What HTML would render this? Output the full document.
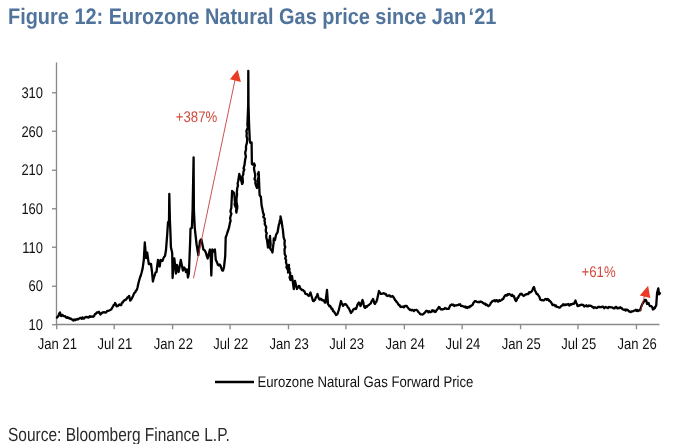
<!DOCTYPE html>
<html><head><meta charset="utf-8"><title>Figure 12</title>
<style>html,body{margin:0;padding:0;background:#fff;width:700px;height:444px;overflow:hidden}</style></head>
<body>
<svg width="700" height="444" viewBox="0 0 700 444" style="position:absolute;left:0;top:0;font-family:'Liberation Sans',Arial,sans-serif;text-rendering:geometricPrecision">
<rect width="700" height="444" fill="#fff"/>
<text transform="translate(8.00,23.50) scale(0.885,1)" text-anchor="start" font-size="22.5" fill="#50749c" font-weight="bold">Figure 12: Eurozone Natural Gas price since Jan</text>
<text transform="translate(496.30,23.50) scale(0.885,1)" text-anchor="end" font-size="22.5" fill="#50749c" font-weight="bold">‘21</text>
<g stroke="#8a8a8a" stroke-width="1.35" fill="none">
<path d="M56.5 62.5 V325"/>
<path d="M56 324.5 H659.5"/>
<path d="M52 324.75 H56.5"/>
<path d="M52 286.25 H56.5"/>
<path d="M52 247.25 H56.5"/>
<path d="M52 208.75 H56.5"/>
<path d="M52 170.25 H56.5"/>
<path d="M52 131.25 H56.5"/>
<path d="M52 92.75 H56.5"/>
<path d="M56.7 324 V329.3"/>
<path d="M114.17 324 V329.3"/>
<path d="M172.59 324 V329.3"/>
<path d="M230.05 324 V329.3"/>
<path d="M288.47 324 V329.3"/>
<path d="M345.94 324 V329.3"/>
<path d="M404.36 324 V329.3"/>
<path d="M462.14 324 V329.3"/>
<path d="M520.56 324 V329.3"/>
<path d="M578.03 324 V329.3"/>
<path d="M636.45 324 V329.3"/>
</g>
<text transform="translate(43.00,330.05) scale(0.835,1)" text-anchor="end" font-size="15.5" fill="#111" font-weight="normal">10</text>
<text transform="translate(43.00,291.38) scale(0.835,1)" text-anchor="end" font-size="15.5" fill="#111" font-weight="normal">60</text>
<text transform="translate(43.00,252.72) scale(0.835,1)" text-anchor="end" font-size="15.5" fill="#111" font-weight="normal">110</text>
<text transform="translate(43.00,214.05) scale(0.835,1)" text-anchor="end" font-size="15.5" fill="#111" font-weight="normal">160</text>
<text transform="translate(43.00,175.38) scale(0.835,1)" text-anchor="end" font-size="15.5" fill="#111" font-weight="normal">210</text>
<text transform="translate(43.00,136.72) scale(0.835,1)" text-anchor="end" font-size="15.5" fill="#111" font-weight="normal">260</text>
<text transform="translate(43.00,98.05) scale(0.835,1)" text-anchor="end" font-size="15.5" fill="#111" font-weight="normal">310</text>
<text transform="translate(57.40,349.30) scale(0.843,1)" text-anchor="middle" font-size="15.5" fill="#111" font-weight="normal">Jan 21</text>
<text transform="translate(114.87,349.30) scale(0.843,1)" text-anchor="middle" font-size="15.5" fill="#111" font-weight="normal">Jul 21</text>
<text transform="translate(173.29,349.30) scale(0.843,1)" text-anchor="middle" font-size="15.5" fill="#111" font-weight="normal">Jan 22</text>
<text transform="translate(230.75,349.30) scale(0.843,1)" text-anchor="middle" font-size="15.5" fill="#111" font-weight="normal">Jul 22</text>
<text transform="translate(289.17,349.30) scale(0.843,1)" text-anchor="middle" font-size="15.5" fill="#111" font-weight="normal">Jan 23</text>
<text transform="translate(346.64,349.30) scale(0.843,1)" text-anchor="middle" font-size="15.5" fill="#111" font-weight="normal">Jul 23</text>
<text transform="translate(405.06,349.30) scale(0.843,1)" text-anchor="middle" font-size="15.5" fill="#111" font-weight="normal">Jan 24</text>
<text transform="translate(462.84,349.30) scale(0.843,1)" text-anchor="middle" font-size="15.5" fill="#111" font-weight="normal">Jul 24</text>
<text transform="translate(521.26,349.30) scale(0.843,1)" text-anchor="middle" font-size="15.5" fill="#111" font-weight="normal">Jan 25</text>
<text transform="translate(578.73,349.30) scale(0.843,1)" text-anchor="middle" font-size="15.5" fill="#111" font-weight="normal">Jul 25</text>
<text transform="translate(637.15,349.30) scale(0.843,1)" text-anchor="middle" font-size="15.5" fill="#111" font-weight="normal">Jan 26</text>
<polyline points="57.0,317.5 57.8,316.5 58.5,316.0 59.2,313.7 60.0,312.5 61.0,316.0 61.7,316.1 62.3,314.9 63.0,315.5 63.8,316.1 64.5,316.3 65.2,316.2 66.0,317.5 66.8,317.8 67.6,317.3 68.4,318.2 69.2,317.9 70.0,318.9 70.8,318.5 71.7,319.4 72.5,319.8 73.4,320.5 74.2,319.4 75.1,320.2 75.9,319.3 76.7,319.6 77.5,319.0 78.4,319.4 79.2,318.4 80.1,317.9 80.9,317.8 81.7,318.9 82.4,317.4 83.2,318.2 84.0,318.6 84.8,317.5 85.6,317.1 86.4,316.9 87.2,317.4 88.0,316.9 88.8,317.6 89.7,316.3 90.5,316.8 91.3,316.5 92.0,316.8 92.6,316.5 93.3,316.8 94.1,315.9 95.0,314.1 95.8,313.8 96.6,312.6 97.3,312.3 98.1,312.6 98.9,311.8 99.7,313.0 100.4,314.5 101.1,313.5 101.7,313.3 102.4,312.5 103.3,312.4 104.1,312.2 105.0,312.5 105.8,312.6 106.5,312.0 107.2,310.8 108.0,310.8 108.8,310.6 109.7,310.2 110.5,309.8 111.4,309.2 112.2,307.8 113.1,306.2 113.8,304.8 114.4,304.9 115.1,303.0 115.8,304.1 116.6,306.4 117.3,305.9 117.9,306.0 118.6,305.2 119.5,304.5 120.3,305.0 121.2,305.0 122.0,302.7 122.9,302.4 123.7,300.6 124.5,300.5 125.2,299.7 126.0,299.7 126.7,298.6 127.5,297.4 128.3,297.1 129.1,295.9 130.3,300.6 131.2,299.5 132.0,298.1 132.9,296.2 133.8,294.1 134.5,292.8 135.3,292.3 136.0,290.5 136.8,289.8 137.5,287.5 138.2,284.2 139.0,281.0 140.0,277.5 140.8,275.5 141.5,273.0 142.6,268.6 143.8,260.0 144.8,242.5 145.6,252.0 146.0,258.0 147.2,252.5 148.2,260.0 148.8,264.0 149.5,263.3 150.2,264.3 151.0,264.0 152.0,272.0 152.9,281.5 154.0,277.0 154.8,275.0 155.5,272.5 156.5,272.0 158.0,260.0 158.8,264.1 159.7,266.5 160.6,260.0 161.2,260.9 161.9,260.3 162.5,261.0 163.5,258.0 164.2,256.8 165.0,256.0 166.0,250.0 167.2,234.6 168.0,222.5 169.0,221.0 169.3,194.0 169.9,220.0 170.5,234.6 170.9,247.0 172.2,253.0 172.6,278.0 173.4,267.0 174.3,258.5 176.0,273.5 176.9,265.0 177.8,268.8 178.6,272.0 180.8,260.0 182.9,270.5 184.2,267.5 185.1,268.9 185.9,272.0 187.1,269.5 187.9,277.5 188.9,273.5 190.2,240.0 190.5,228.8 191.2,228.3 191.9,228.0 192.6,210.0 193.6,157.3 193.9,210.0 194.8,228.5 196.6,244.5 198.3,255.0 200.0,241.0 200.7,239.7 201.4,239.5 203.4,249.5 204.3,250.0 205.1,251.1 206.0,253.0 206.8,256.2 207.7,258.5 209.9,249.5 210.8,258.0 211.3,275.5 212.3,249.5 213.0,249.9 213.7,251.5 214.9,249.5 215.8,260.0 216.5,261.2 217.3,263.1 218.0,265.0 218.8,265.4 219.7,264.5 220.6,265.8 221.4,268.4 222.3,270.5 223.1,270.5 224.0,267.0 225.2,256.5 225.7,237.5 226.6,235.1 227.4,232.5 228.3,230.0 229.2,226.9 230.0,222.5 230.6,221.0 230.1,218.2 230.4,216.9 231.4,213.7 230.5,211.7 230.7,210.0 231.3,208.0 232.1,191.0 232.8,192.0 233.5,192.3 234.2,193.5 235.0,202.5 234.6,204.4 235.4,206.6 236.5,208.8 236.1,210.7 236.4,212.5 236.8,209.6 237.2,208.5 237.3,206.3 236.7,203.5 236.5,201.6 236.5,198.5 236.8,196.5 237.1,194.1 236.8,192.0 237.1,190.1 237.1,188.7 238.0,185.4 237.6,183.5 238.1,181.5 239.3,174.0 240.0,176.5 240.7,179.5 241.4,181.1 242.1,184.0 242.9,182.4 242.7,179.2 242.4,176.2 243.3,174.5 243.4,171.9 244.3,169.5 243.5,168.5 244.5,164.9 244.8,162.5 245.0,161.0 245.2,159.4 245.9,156.6 245.3,153.8 245.3,152.1 246.0,149.7 246.0,146.5 246.4,144.6 246.9,143.2 247.1,140.8 247.2,138.6 246.5,136.1 246.8,133.1 246.4,131.4 246.8,129.9 247.9,127.4 247.4,125.3 248.2,105.0 248.3,70.8 248.5,105.0 249.1,125.3 249.8,140.5 250.3,142.8 251.6,142.5 251.9,164.0 252.6,164.6 253.4,164.5 254.1,163.5 254.9,165.5 254.0,167.4 254.1,169.5 254.8,172.8 255.2,174.3 255.1,177.0 254.5,178.9 255.7,181.3 255.3,183.0 256.1,185.9 257.0,188.0 257.2,185.2 257.9,183.2 258.1,181.9 257.8,178.7 258.8,176.9 258.0,173.7 258.7,172.0 259.6,195.0 260.9,197.0 261.6,205.5 262.3,208.4 263.0,212.5 264.0,215.0 263.3,217.0 264.9,218.8 264.4,220.6 265.0,222.5 264.7,223.9 266.2,227.1 265.8,229.8 265.9,231.8 266.7,233.0 266.2,235.3 266.4,238.0 267.0,240.0 268.0,247.5 268.1,245.1 268.3,243.6 269.0,240.5 269.7,238.9 270.0,236.0 270.1,239.0 270.3,240.7 270.5,242.2 270.6,244.8 270.1,248.1 271.0,250.0 271.8,250.7 272.5,252.5 272.7,250.5 273.0,247.6 273.2,245.6 273.7,242.5 273.6,240.4 273.8,238.5 275.0,240.0 276.0,235.0 276.8,233.4 277.5,232.5 278.8,225.0 279.6,222.9 279.7,221.2 280.6,218.5 280.5,216.5 281.5,221.0 282.5,227.5 282.9,229.7 283.1,232.2 283.3,234.2 283.6,237.1 284.2,239.2 284.8,240.4 284.5,243.0 284.7,245.9 285.3,246.8 284.5,249.4 284.6,251.3 284.7,254.1 285.9,256.6 285.2,258.5 286.1,259.8 286.0,262.5 286.9,265.2 286.4,267.2 287.1,268.5 288.3,271.0 288.0,272.5 289.0,265.0 288.7,267.0 289.5,269.0 289.2,271.1 290.2,272.8 290.1,275.6 289.6,277.6 290.5,280.0 291.2,278.2 292.0,276.0 293.8,289.0 295.0,281.0 297.0,289.0 297.9,287.5 298.8,286.0 299.5,286.1 300.2,288.4 301.0,288.9 301.8,290.0 302.5,290.0 303.2,290.1 303.9,291.2 304.6,291.6 305.3,293.7 306.0,294.0 306.7,294.1 307.4,294.4 308.1,295.4 308.8,296.0 309.6,294.9 310.5,292.5 313.0,301.0 313.7,301.2 314.3,299.9 315.0,300.0 315.8,297.4 316.7,296.7 317.5,294.0 318.2,296.6 319.0,299.0 319.7,299.5 320.4,298.7 321.1,298.8 321.8,300.1 322.5,300.0 323.2,300.5 324.0,300.5 324.8,302.6 325.5,302.5 327.0,290.0 328.0,304.0 328.8,305.1 329.5,306.3 330.2,305.9 331.0,307.5 331.7,309.1 332.4,308.8 333.1,311.1 333.8,311.4 334.5,312.5 335.2,313.5 336.0,315.0 336.8,314.6 337.5,314.0 338.8,310.0 341.0,301.0 341.7,303.4 342.3,303.9 343.0,306.0 343.7,304.7 344.3,304.7 345.0,304.0 345.8,304.4 346.5,305.1 347.2,306.0 348.0,307.5 348.8,308.1 349.5,309.7 350.2,311.3 351.0,313.0 351.7,311.7 352.4,311.4 353.1,309.6 353.8,309.0 354.5,309.0 355.2,308.5 356.0,309.0 356.7,307.1 357.4,304.9 358.1,303.7 358.8,302.5 359.6,303.4 360.5,306.0 361.2,304.4 361.8,302.1 362.5,300.0 363.2,302.0 363.8,305.0 364.5,307.5 365.2,307.9 366.0,306.1 366.8,306.9 367.5,306.0 368.3,305.2 369.2,304.7 370.0,304.0 370.8,303.3 371.5,301.3 372.2,300.3 373.0,299.0 373.7,301.0 374.3,303.2 375.0,304.0 375.7,302.4 376.3,301.9 377.0,300.0 379.0,291.0 379.7,292.4 380.3,293.2 381.0,294.0 381.8,293.8 382.6,293.7 383.4,293.2 384.2,293.4 385.0,294.0 385.8,293.9 386.7,295.7 387.5,296.0 388.2,295.6 388.9,295.4 389.6,295.3 390.4,296.6 391.1,296.6 391.8,296.3 392.5,296.0 393.3,297.0 394.2,298.2 395.0,300.0 395.8,300.6 396.5,301.9 397.2,302.4 398.0,303.9 398.8,305.0 399.5,305.0 400.2,306.6 401.0,307.0 401.8,306.7 402.5,307.0 403.2,306.4 403.9,307.4 404.6,306.1 405.3,306.0 406.0,306.0 406.8,306.0 407.6,307.4 408.4,308.4 409.2,309.2 410.0,310.0 410.8,309.7 411.5,310.4 412.2,309.8 413.0,310.4 413.8,311.0 414.5,310.0 415.2,310.2 416.0,310.0 416.8,310.0 417.6,310.8 418.4,312.1 419.2,312.7 420.0,314.0 420.8,314.3 421.7,314.4 422.5,314.5 423.2,314.2 423.9,313.4 424.6,312.8 425.3,312.3 426.0,311.0 426.8,311.0 427.6,311.1 428.4,312.4 429.2,311.2 430.0,312.0 430.8,312.1 431.5,311.6 432.2,310.3 433.0,311.4 433.8,310.5 435.0,312.0 435.8,311.7 436.5,310.2 437.2,309.4 438.0,308.5 438.8,307.0 439.5,307.2 440.2,308.7 441.0,309.5 441.8,309.2 442.6,309.5 443.4,309.1 444.2,308.9 445.0,308.0 445.8,308.3 446.5,309.0 447.2,308.8 448.0,308.9 448.8,308.8 449.5,307.0 450.2,305.5 451.0,305.0 451.8,304.5 452.6,305.0 453.4,304.6 454.2,306.0 455.0,305.5 455.8,305.4 456.5,305.3 457.2,305.1 458.0,305.0 458.8,304.5 459.5,304.8 460.2,304.3 461.0,305.9 461.8,306.1 462.5,306.0 463.2,306.3 463.9,306.6 464.6,307.1 465.4,306.4 466.1,307.8 466.8,307.3 467.5,308.0 468.2,306.9 468.9,306.8 469.6,307.2 470.3,305.9 471.0,306.0 471.8,305.4 472.6,304.8 473.4,303.0 474.2,301.8 475.0,301.0 475.8,301.2 476.5,301.7 477.2,302.1 478.0,302.0 478.8,302.0 479.5,302.3 480.2,301.5 481.0,301.7 481.8,302.0 482.5,302.5 483.2,303.4 483.9,303.2 484.6,304.1 485.3,303.7 486.0,305.0 486.7,304.5 487.4,305.1 488.1,306.0 488.8,306.0 489.5,305.3 490.2,304.3 491.0,302.6 491.8,302.0 492.5,301.0 493.2,300.8 493.9,300.7 494.6,300.1 495.3,301.3 496.0,300.5 496.8,300.1 497.6,301.5 498.4,301.5 499.2,300.1 500.0,301.0 500.8,300.3 501.7,300.2 502.5,299.0 503.2,299.0 503.9,297.3 504.6,296.2 505.3,295.3 506.0,295.0 506.8,295.7 507.6,294.3 508.4,294.8 509.2,294.0 510.0,294.5 510.8,294.8 511.5,295.9 512.2,294.8 513.0,296.2 513.8,296.0 514.5,297.7 515.2,300.0 516.0,301.0 516.7,300.1 517.4,298.0 518.1,297.9 518.8,296.0 519.5,295.3 520.2,293.9 521.0,294.0 521.7,293.7 522.4,295.0 523.1,295.4 523.8,296.0 524.5,295.3 525.2,294.6 526.0,294.5 526.8,294.1 527.5,294.0 528.3,294.1 529.2,292.2 530.0,292.5 530.8,292.1 531.7,291.4 532.5,290.0 533.2,287.9 534.0,287.0 534.7,289.6 535.3,291.0 536.0,292.5 536.7,294.1 537.4,293.9 538.1,294.9 538.8,296.0 539.5,297.2 540.2,299.5 541.0,300.0 541.7,300.3 542.4,300.0 543.1,300.3 543.8,300.5 544.5,299.8 545.2,299.1 546.0,298.9 546.8,299.9 547.5,299.0 548.3,299.3 549.2,301.1 550.0,301.0 550.8,301.9 551.7,303.3 552.5,305.0 553.2,305.1 553.9,304.7 554.6,305.1 555.3,306.2 556.0,305.5 556.7,306.7 557.4,307.0 558.1,307.2 558.8,307.5 559.5,307.7 560.2,307.2 561.0,306.1 561.8,305.9 562.5,305.0 563.2,304.1 563.9,305.2 564.6,304.6 565.3,305.0 566.0,304.5 566.8,304.8 567.6,304.3 568.4,304.0 569.2,305.6 570.0,305.0 570.8,304.1 571.5,304.5 572.2,304.0 573.0,303.7 573.8,303.8 574.6,302.5 575.5,300.5 576.2,303.1 576.8,303.8 577.5,306.0 578.2,306.1 578.9,305.3 579.6,305.5 580.3,305.0 581.0,305.0 581.8,304.6 582.6,304.8 583.4,305.1 584.2,306.5 585.0,306.0 585.8,305.9 586.5,305.3 587.2,306.4 588.0,306.4 588.8,305.5 589.5,305.8 590.2,305.6 590.9,306.0 591.6,306.2 592.3,307.0 593.0,306.9 593.8,308.0 594.5,307.4 595.2,307.3 595.9,307.7 596.6,308.1 597.3,307.7 598.0,307.0 598.8,307.0 599.5,306.9 600.3,307.2 601.1,307.0 601.9,307.0 602.7,306.6 603.4,307.0 604.2,308.2 605.0,307.5 605.8,306.9 606.5,307.5 607.2,307.7 608.0,308.1 608.8,307.0 609.5,307.1 610.2,307.1 611.0,307.3 611.8,307.4 612.5,307.5 613.3,308.3 614.0,308.2 614.8,308.3 615.6,306.9 616.4,306.9 617.1,308.1 617.9,308.5 618.7,307.8 619.5,308.1 620.2,307.1 621.0,308.0 621.8,308.1 622.6,309.3 623.4,309.5 624.2,309.8 625.0,309.5 625.7,310.6 626.4,309.6 627.1,309.7 627.9,310.1 628.6,311.0 629.3,311.5 630.0,311.5 630.7,312.1 631.4,311.6 632.1,311.3 632.9,311.4 633.6,310.7 634.3,310.7 635.0,310.5 635.8,309.7 636.5,310.9 637.3,310.0 638.0,311.1 638.8,310.6 639.5,310.0 640.3,310.3 641.0,307.3 641.7,305.6 642.4,303.8 643.0,303.2 643.7,301.6 644.4,301.4 645.1,299.8 645.8,299.9 646.5,301.2 647.1,303.9 647.8,303.5 648.5,303.0 649.2,304.7 649.9,306.1 650.8,306.1 651.6,306.4 652.3,307.5 653.0,309.5 653.6,309.2 654.3,307.7 654.9,308.1 655.5,306.5 656.2,305.6 657.1,292.7 658.3,288.4 659.1,294.4 660.0,293.1" fill="none" stroke="#000" stroke-width="2.3" stroke-linejoin="round" stroke-linecap="round"/>
<g stroke="#ec3a24" fill="#ec3a24">
<path d="M193.5 278.3 L235 80" stroke="#bf3530" stroke-width="0.85" fill="none"/>
<path d="M237.6 69.7 L230.0 79.3 L240.9 81.9 Z" stroke="none"/>
<path d="M640.5 311 L644.5 296" stroke="#bf3530" stroke-width="0.85" fill="none"/>
<path d="M648.1 285.8 L639.8 295.6 L650.3 298 Z" stroke="none"/>
</g>
<text transform="translate(175.80,122.00) scale(0.856,1)" text-anchor="start" font-size="15.4" fill="#d24a3e" font-weight="normal">+387%</text>
<text transform="translate(581.60,277.00) scale(0.856,1)" text-anchor="start" font-size="15.4" fill="#d24a3e" font-weight="normal">+61%</text>
<path d="M215 382 H254" stroke="#000" stroke-width="2.5"/>
<text transform="translate(257.40,387.20) scale(0.856,1)" text-anchor="start" font-size="15.4" fill="#111" font-weight="normal">Eurozone Natural Gas Forward Price</text>
<text transform="translate(8.00,440.60) scale(0.815,1)" text-anchor="start" font-size="19" fill="#2a2a2a" font-weight="normal">Source: Bloomberg Finance L.P.</text>
</svg>
</body></html>
